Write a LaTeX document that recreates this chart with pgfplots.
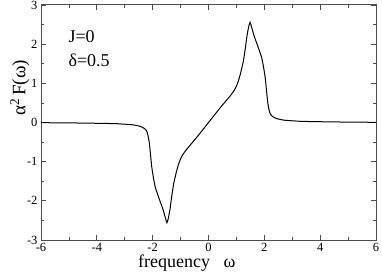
\documentclass[border=0pt]{standalone}
\usepackage{pgfplots}
\pgfplotsset{compat=1.18}
\usepackage{fontspec}
\setmainfont{Liberation Serif}
\begin{document}
\begin{tikzpicture}
\begin{axis}[
  scale only axis,
  width=335pt, height=235pt,
  xmin=-6, xmax=6, ymin=-3, ymax=3,
  xtick={-6,-4,...,6}, ytick={-3,-2,...,3},
  minor x tick num=1, minor y tick num=1,
  tick align=inside,
  major tick length=5pt, minor tick length=3pt,
  axis line style={draw=black!70, line width=1pt},
  every tick/.style={draw=black!70, line width=0.8pt},
  tick label style={font=\fontsize{12.5}{14}\selectfont},
  /pgf/number format/assume math mode=true,
  xlabel={frequency\hspace{0.75em}ω},
  ylabel={α\textsuperscript{2}\,F(ω)},
  xlabel style={font=\fontsize{18}{20}\selectfont, at={(axis description cs:0.435,-0.119)}, anchor=base},
  ylabel style={font=\fontsize{19}{21}\selectfont, at={(axis description cs:-0.063,0.647)}, anchor=center},
]
\addplot[black, line width=1pt, smooth, tension=0.25] coordinates {
(-6,-0.005) (-5,-0.01) (-4,-0.02) (-3.3,-0.03) (-2.7,-0.06) (-2.44,-0.10) (-2.3,-0.15) (-2.22,-0.21) (-2.17,-0.32) (-2.12,-0.52) (-2.08,-0.80) (-2.03,-1.15) (-1.97,-1.42) (-1.91,-1.64) (-1.83,-1.82) (-1.73,-2.02) (-1.63,-2.22) (-1.55,-2.42) (-1.49,-2.56) (-1.44,-2.45) (-1.38,-2.22) (-1.32,-1.90) (-1.25,-1.57) (-1.15,-1.26) (-1.07,-1.06) (-1.0,-0.93) (-0.92,-0.82) (-0.8,-0.70) (-0.6,-0.53) (-0.4,-0.36) (-0.2,-0.18)
(0,0)
(0.2,0.18) (0.4,0.36) (0.6,0.53) (0.8,0.70) (0.92,0.82) (1.0,0.93) (1.07,1.06) (1.15,1.26) (1.25,1.57) (1.32,1.90) (1.38,2.22) (1.44,2.45) (1.49,2.56) (1.55,2.42) (1.63,2.22) (1.73,2.02) (1.83,1.82) (1.91,1.64) (1.97,1.42) (2.03,1.15) (2.08,0.80) (2.12,0.52) (2.17,0.32) (2.22,0.21) (2.3,0.15) (2.44,0.10) (2.7,0.06) (3.3,0.03) (4,0.02) (5,0.01) (6,0.005)
};
\node[anchor=base west, font=\fontsize{18}{20}\selectfont] at (axis cs:-5.14,2.05) {J=0};
\node[anchor=base west, font=\fontsize{18}{20}\selectfont] at (axis cs:-5.14,1.42) {δ=0.5};
\end{axis}
\pgfresetboundingbox
\path ([xshift=-41pt,yshift=-35pt]current axis.south west) rectangle ([xshift=6pt,yshift=5pt]current axis.north east);
\end{tikzpicture}
\end{document}
